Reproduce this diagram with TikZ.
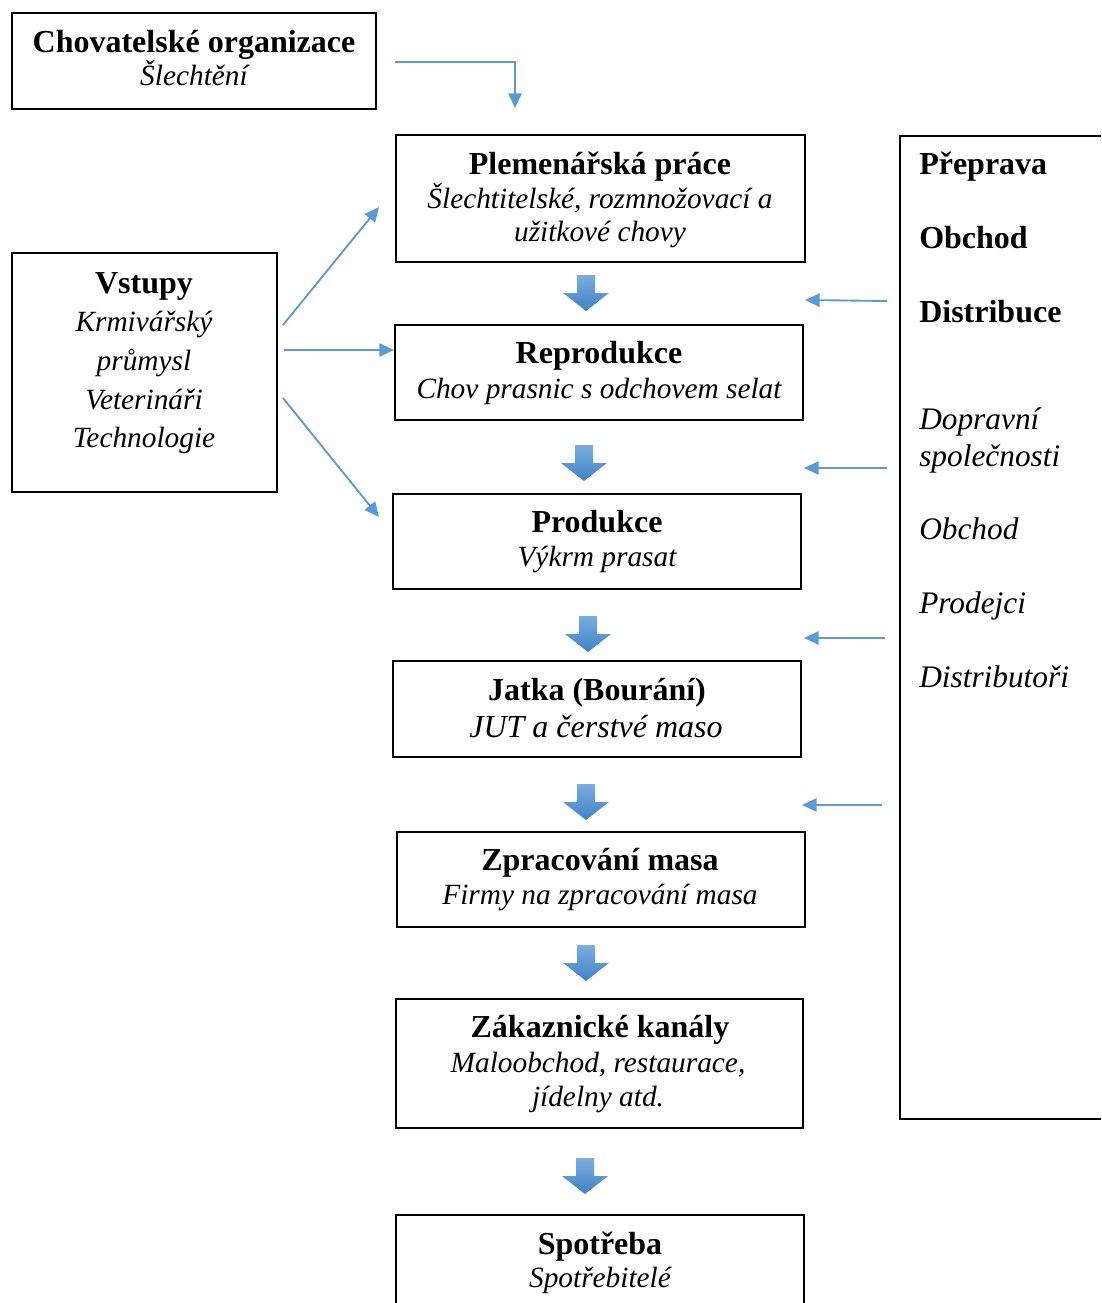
\documentclass[tikz,border=0pt]{standalone}
\usepackage{fontspec}
\setmainfont{Liberation Serif}
\usetikzlibrary{arrows.meta,calc,fit}
\begin{document}
\begin{tikzpicture}[x=0.75pt,y=-0.75pt,
  box/.style={draw=black,line width=1.1pt,inner sep=0pt},
  tb/.style={font=\fontsize{24}{28}\selectfont\bfseries,anchor=base,inner sep=0pt},
  ti/.style={font=\fontsize{22}{26}\selectfont\itshape,anchor=base,inner sep=0pt},
  tl/.style={anchor=base west,inner sep=0pt},
  thinarrow/.style={draw=arrowblue,line width=1.4pt,-{Triangle[length=11pt,width=10pt]}},
  blockarrow/.style={top color=arrowtop,bottom color=arrowbot,draw=none}
]
\definecolor{arrowblue}{HTML}{5B9BD5}
\definecolor{arrowtop}{HTML}{7AAEDF}
\definecolor{arrowbot}{HTML}{3F82C6}
\useasboundingbox (0,0) rectangle (1101,1303);
\begin{scope}
\clip (0,0) rectangle (1101,1303);
% boxes
\node[box,fit={(12,13) (376,109)}] (cho) {};
\node[box,fit={(396,135) (805,262)}] (ple) {};
\node[box,fit={(12,253) (277,492)}] (vst) {};
\node[box,fit={(395,325) (803,420)}] (rep) {};
\node[box,fit={(393,494) (801,589)}] (pro) {};
\node[box,fit={(393,661) (801,757)}] (jat) {};
\node[box,fit={(397,832) (805,927)}] (zpr) {};
\node[box,fit={(396,999) (803,1128)}] (zak) {};
\node[box,fit={(396,1215) (804,1320)}] (spo) {};
\draw[line width=1.1pt] (1120,136) -- (900,136) -- (900,1119) -- (1120,1119);

% named coordinates for connector ends
\coordinate (choR) at (395,62);
\coordinate (pleT) at (515,108);
\coordinate (vstA) at (283,325);
\coordinate (pleL) at (379,207);
\coordinate (vstB) at (284,350);
\coordinate (repL) at (394,350);
\coordinate (vstC) at (283,398);
\coordinate (proL) at (379,517);

% texts
\node[tb] (t1) at (194,52) {Chovatelské organizace};
\node[ti] (t2) at (194,85) {Šlechtění};

\node[tb] (t3) at (600,174) {Plemenářská práce};
\node[ti] (t4) at (600,208) {Šlechtitelské, rozmnožovací a};
\node[ti] (t5) at (600,241) {užitkové chovy};

\node[tb] (t6) at (144,293) {Vstupy};
\node[ti] (t7) at (144,331) {Krmivářský};
\node[ti] (t8) at (144,370) {průmysl};
\node[ti] (t9) at (144,409) {Veterináři};
\node[ti] (t10) at (144,447) {Technologie};

\node[tb] (t11) at (599,363) {Reprodukce};
\node[ti] (t12) at (599,398) {Chov prasnic s odchovem selat};

\node[tb] (t13) at (597,532) {Produkce};
\node[ti] (t14) at (597,566) {Výkrm prasat};

\node[tb] (t15) at (597,700) {Jatka (Bourání)};
\node[ti,font=\fontsize{24}{28}\selectfont\itshape] (t16) at (596,737) {JUT a čerstvé maso};

\node[tb] (t17) at (600,870) {Zpracování masa};
\node[ti] (t18) at (600,904) {Firmy na zpracování masa};

\node[tb] (t19) at (600,1037) {Zákaznické kanály};
\node[ti] (t20) at (598,1072) {Maloobchod, restaurace,};
\node[ti] (t21) at (598,1106) {jídelny atd.};

\node[tb] (t22) at (600,1254) {Spotřeba};
\node[ti] (t23) at (600,1287) {Spotřebitelé};

\node[tl,font=\fontsize{24}{28}\selectfont\bfseries] (r1) at (919,174) {Přeprava};
\node[tl,font=\fontsize{24}{28}\selectfont\bfseries] (r2) at (919,248) {Obchod};
\node[tl,font=\fontsize{24}{28}\selectfont\bfseries] (r3) at (919,322) {Distribuce};
\node[tl,font=\fontsize{23.5}{28}\selectfont\itshape] (r4) at (919,429) {Dopravní};
\node[tl,font=\fontsize{23.5}{28}\selectfont\itshape] (r5) at (919,466) {společnosti};
\node[tl,font=\fontsize{23.5}{28}\selectfont\itshape] (r6) at (919,539) {Obchod};
\node[tl,font=\fontsize{23.5}{28}\selectfont\itshape] (r7) at (919,613) {Prodejci};
\node[tl,font=\fontsize{23.5}{28}\selectfont\itshape] (r8) at (919,687) {Distributoři};

% thin arrows
\draw[thinarrow] (choR) -- (515,62) -- (pleT);
\draw[thinarrow] (vstA) -- (pleL);
\draw[thinarrow] (vstB) -- (repL);
\draw[thinarrow] (vstC) -- (proL);

\coordinate (d1a) at (887,301); \coordinate (d1b) at (805,300);
\coordinate (d2a) at (887,468); \coordinate (d2b) at (804,468);
\coordinate (d3a) at (885,638); \coordinate (d3b) at (804,638);
\coordinate (d4a) at (882,805); \coordinate (d4b) at (802,805);
\draw[thinarrow] (d1a) -- (d1b);
\draw[thinarrow] (d2a) -- (d2b);
\draw[thinarrow] (d3a) -- (d3b);
\draw[thinarrow] (d4a) -- (d4b);

% block arrows
\foreach \cx/\ty in {586/275, 584/445, 588/616, 586/784, 586/945, 585/1158}{
  \shade[blockarrow] (\cx-9,\ty) -- (\cx+9,\ty) -- (\cx+9,\ty+18) -- (\cx+23,\ty+18)
     -- (\cx,\ty+36) -- (\cx-23,\ty+18) -- (\cx-9,\ty+18) -- cycle;
}
\end{scope}
\end{tikzpicture}
\end{document}
